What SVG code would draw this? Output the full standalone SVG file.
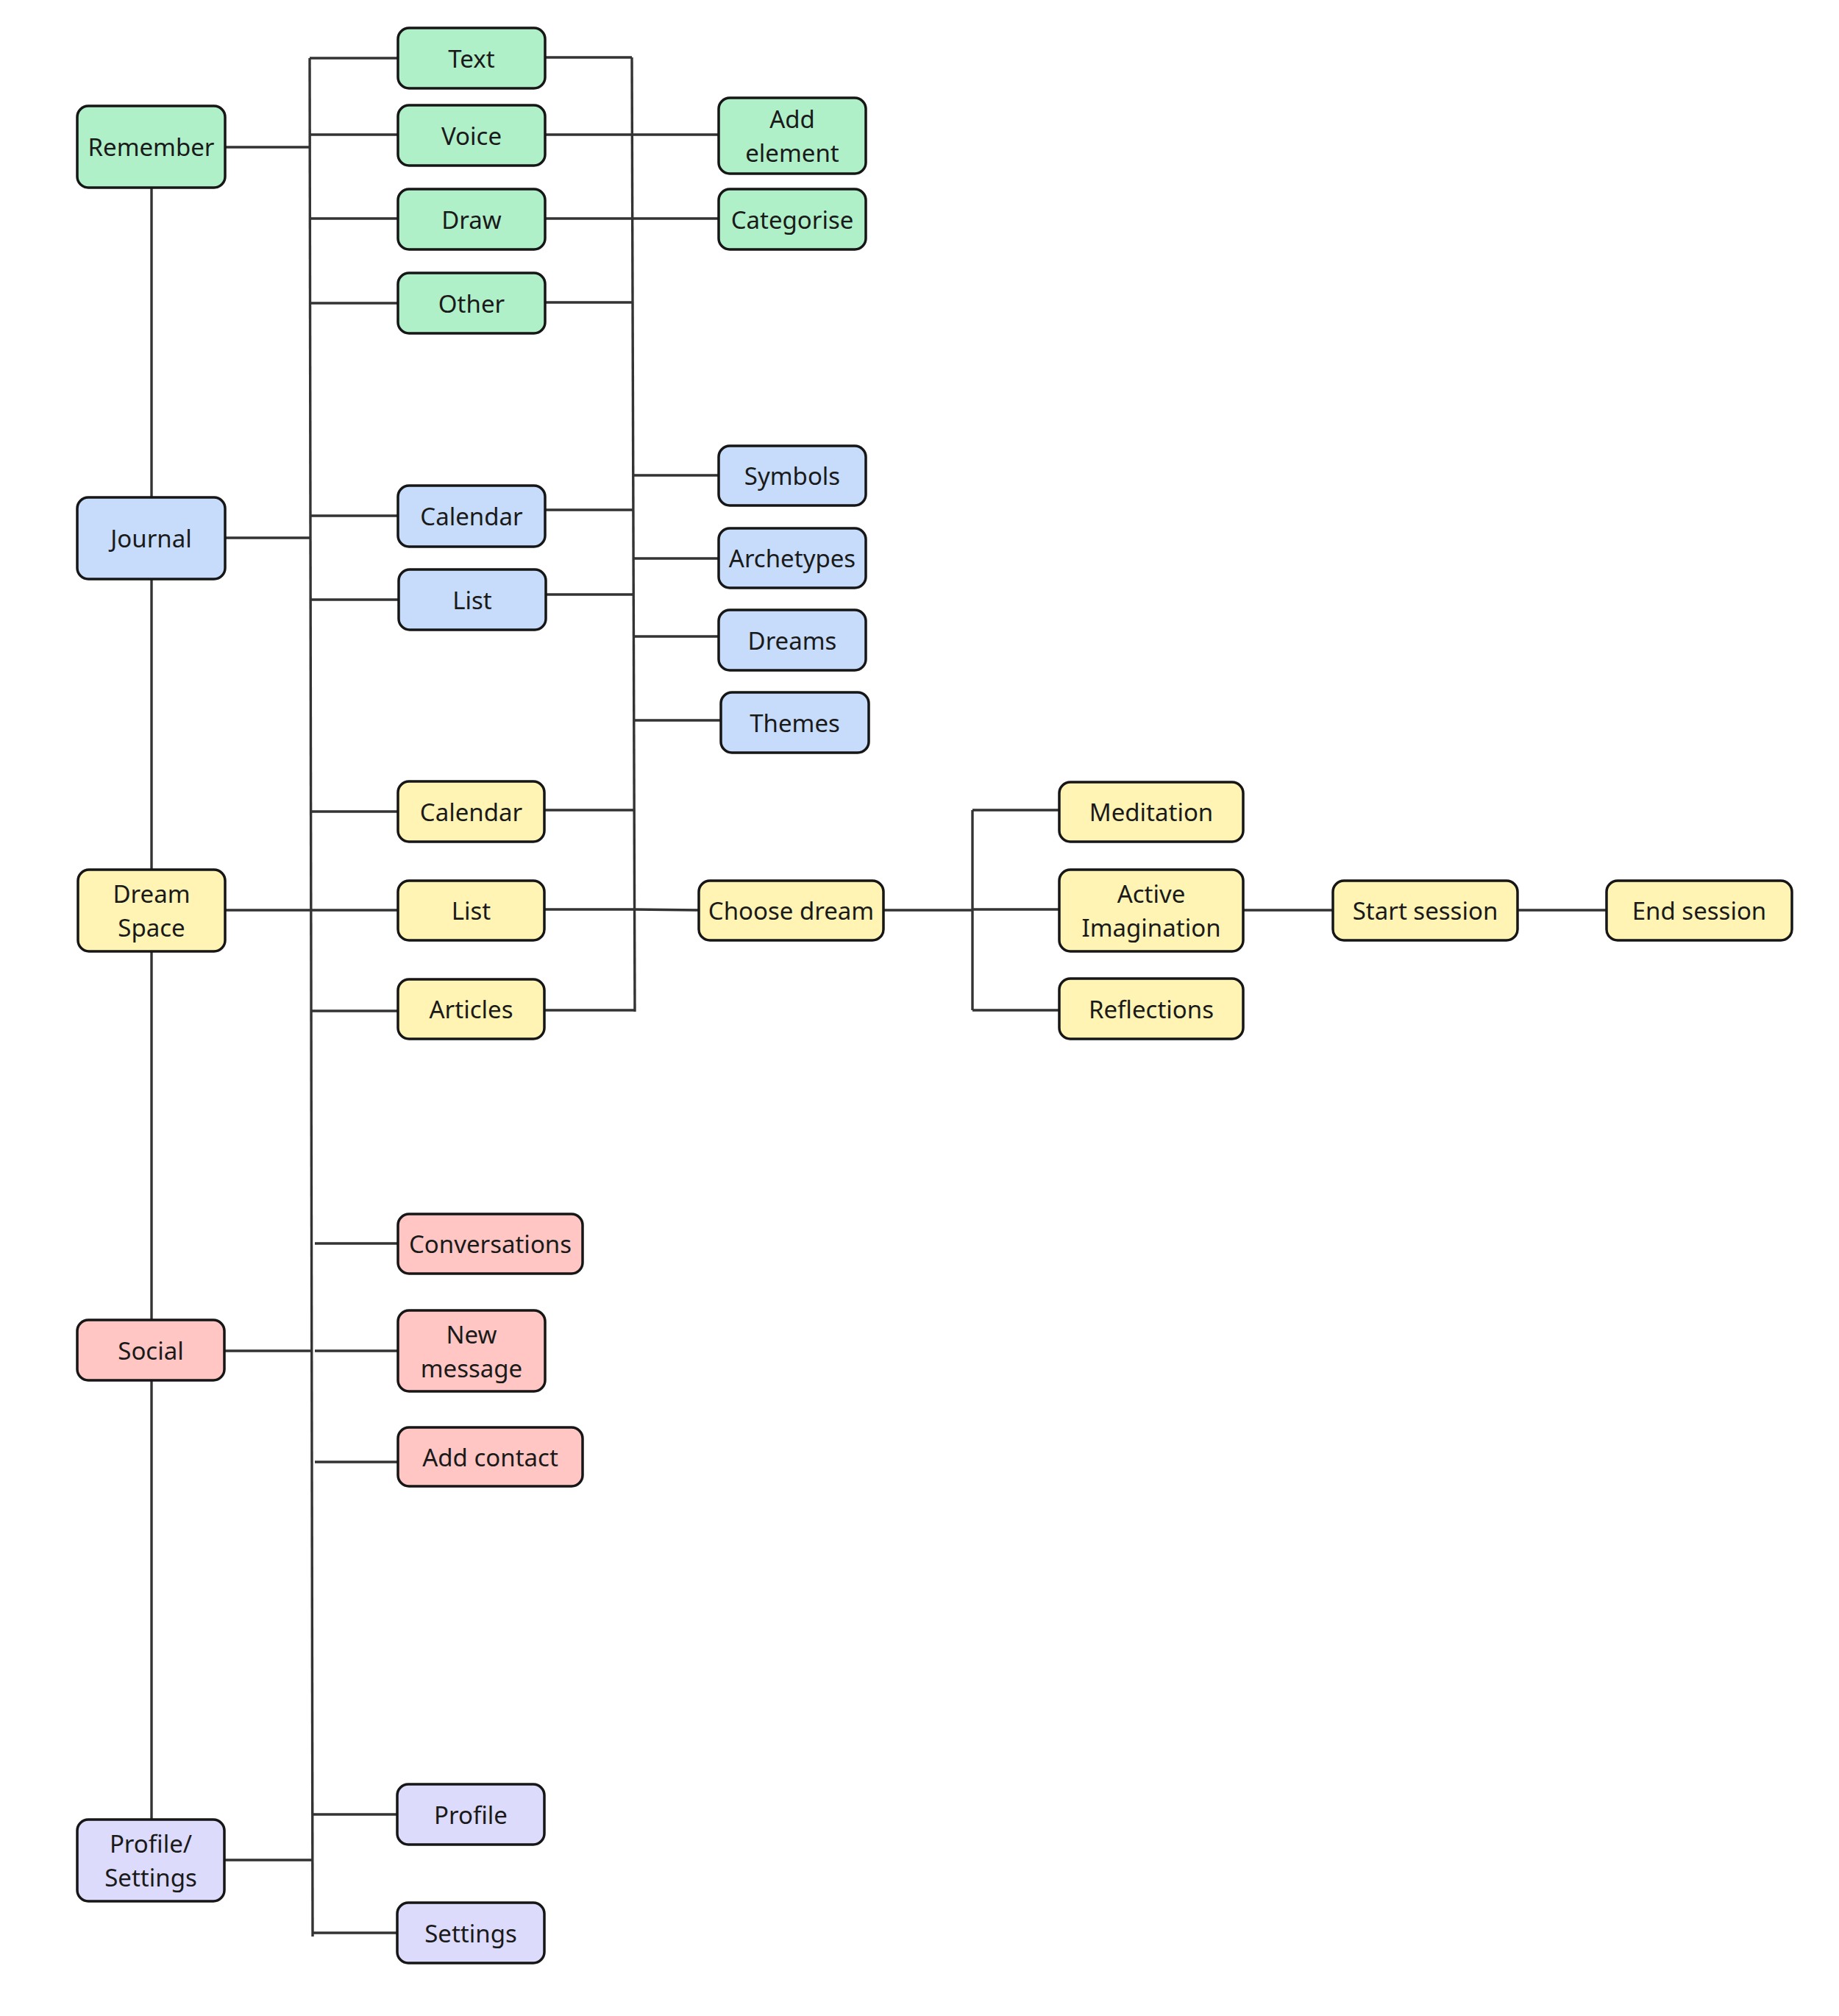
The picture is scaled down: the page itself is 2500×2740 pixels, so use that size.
<svg xmlns="http://www.w3.org/2000/svg" width="2500" height="2740" viewBox="0 0 2500 2740">
<style>
.n rect{stroke:#161616;stroke-width:3.5}
.g rect{fill:#b0f0c9}
.b rect{fill:#c6dcfa}
.y rect{fill:#fff4b4}
.r rect{fill:#ffc6c4}
.p rect{fill:#dddbfb}
.n text{font-family:"Noto Sans","Open Sans","DejaVu Sans",sans-serif;font-size:33px;fill:#1a1a1a;text-anchor:middle;dominant-baseline:central}
#connectors path{fill:none;stroke:#333;stroke-width:3.4}
</style>
<rect width="2500" height="2740" fill="#fff"/>
<g id="connectors">
<path d="M206,255V676M206,787V1182M206,1293V1794M206,1876V2473"/>
<path d="M421,79L425,2632"/>
<path d="M859,78L863,1375"/>
<path d="M306,200H421M421,79H541M421,183H541M421,297H541M421,412H541"/>
<path d="M741,78H859M741,183H977M741,297H977M741,411H860"/>
<path d="M306,731H422M422,701H542M742,693H860M422,815H543M743,808H861"/>
<path d="M860,646H977M861,759H977M861,865H977M862,979H980"/>
<path d="M305,1237H423M423,1103H541M740,1101H862M423,1237H541M740,1236H862L950,1237M423,1374H541M740,1373H863"/>
<path d="M1201,1237H1322M1322,1101V1373M1322,1101H1440M1322,1236H1440M1322,1373H1440"/>
<path d="M1690,1237H1812M2063,1237H2184"/>
<path d="M304,1836H423M428,1690H541M428,1836H541M428,1987H541"/>
<path d="M304,2528H425M425,2466H540M425,2627H540"/>
</g>
<g id="remember" class="n g"><rect x="105" y="144" width="201" height="111" rx="15"/><text x="205.5" y="199.5">Remember</text></g>
<g id="text" class="n g"><rect x="541" y="38" width="200" height="82" rx="15"/><text x="641" y="79">Text</text></g>
<g id="voice" class="n g"><rect x="541" y="143" width="200" height="82" rx="15"/><text x="641" y="184">Voice</text></g>
<g id="draw" class="n g"><rect x="541" y="257" width="200" height="82" rx="15"/><text x="641" y="298">Draw</text></g>
<g id="other" class="n g"><rect x="541" y="371" width="200" height="82" rx="15"/><text x="641" y="412">Other</text></g>
<g id="add-element" class="n g"><rect x="977" y="133" width="200" height="103" rx="15"/><text x="1077" y="161">Add</text><text x="1077" y="207">element</text></g>
<g id="categorise" class="n g"><rect x="977" y="257" width="200" height="82" rx="15"/><text x="1077" y="298">Categorise</text></g>
<g id="journal" class="n b"><rect x="105" y="676" width="201" height="111" rx="15"/><text x="205.5" y="731.5">Journal</text></g>
<g id="j-calendar" class="n b"><rect x="541" y="660" width="200" height="83" rx="15"/><text x="641" y="701.5">Calendar</text></g>
<g id="j-list" class="n b"><rect x="542" y="774" width="200" height="82" rx="15"/><text x="642" y="815">List</text></g>
<g id="symbols" class="n b"><rect x="977" y="606" width="200" height="81" rx="15"/><text x="1077" y="646.5">Symbols</text></g>
<g id="archetypes" class="n b"><rect x="977" y="718" width="200" height="81" rx="15"/><text x="1077" y="758.5">Archetypes</text></g>
<g id="dreams" class="n b"><rect x="977" y="829" width="200" height="82" rx="15"/><text x="1077" y="870">Dreams</text></g>
<g id="themes" class="n b"><rect x="980" y="941" width="201" height="82" rx="15"/><text x="1080.5" y="982">Themes</text></g>
<g id="dream-space" class="n y"><rect x="106" y="1182" width="200" height="111" rx="15"/><text x="206" y="1214">Dream</text><text x="206" y="1260">Space</text></g>
<g id="d-calendar" class="n y"><rect x="541" y="1062" width="199" height="82" rx="15"/><text x="640.5" y="1103">Calendar</text></g>
<g id="d-list" class="n y"><rect x="541" y="1197" width="199" height="81" rx="15"/><text x="640.5" y="1237.5">List</text></g>
<g id="articles" class="n y"><rect x="541" y="1331" width="199" height="81" rx="15"/><text x="640.5" y="1371.5">Articles</text></g>
<g id="choose-dream" class="n y"><rect x="950" y="1197" width="251" height="81" rx="15"/><text x="1075.5" y="1237.5">Choose dream</text></g>
<g id="meditation" class="n y"><rect x="1440" y="1063" width="250" height="81" rx="15"/><text x="1565" y="1103.5">Meditation</text></g>
<g id="active-imagination" class="n y"><rect x="1440" y="1182" width="250" height="111" rx="15"/><text x="1565" y="1214">Active</text><text x="1565" y="1260">Imagination</text></g>
<g id="reflections" class="n y"><rect x="1440" y="1330" width="250" height="82" rx="15"/><text x="1565" y="1371">Reflections</text></g>
<g id="start-session" class="n y"><rect x="1812" y="1197" width="251" height="81" rx="15"/><text x="1937.5" y="1237.5">Start session</text></g>
<g id="end-session" class="n y"><rect x="2184" y="1197" width="252" height="81" rx="15"/><text x="2310" y="1237.5">End session</text></g>
<g id="social" class="n r"><rect x="105" y="1794" width="200" height="82" rx="15"/><text x="205" y="1835">Social</text></g>
<g id="conversations" class="n r"><rect x="541" y="1650" width="251" height="81" rx="15"/><text x="666.5" y="1690.5">Conversations</text></g>
<g id="new-message" class="n r"><rect x="541" y="1781" width="200" height="110" rx="15"/><text x="641" y="1813">New</text><text x="641" y="1859">message</text></g>
<g id="add-contact" class="n r"><rect x="541" y="1940" width="251" height="80" rx="15"/><text x="666.5" y="1980">Add contact</text></g>
<g id="profile-settings" class="n p"><rect x="105" y="2473" width="200" height="111" rx="15"/><text x="205" y="2505">Profile/</text><text x="205" y="2551">Settings</text></g>
<g id="profile" class="n p"><rect x="540" y="2425" width="200" height="82" rx="15"/><text x="640" y="2466">Profile</text></g>
<g id="settings" class="n p"><rect x="540" y="2586" width="200" height="82" rx="15"/><text x="640" y="2627">Settings</text></g>
</svg>
